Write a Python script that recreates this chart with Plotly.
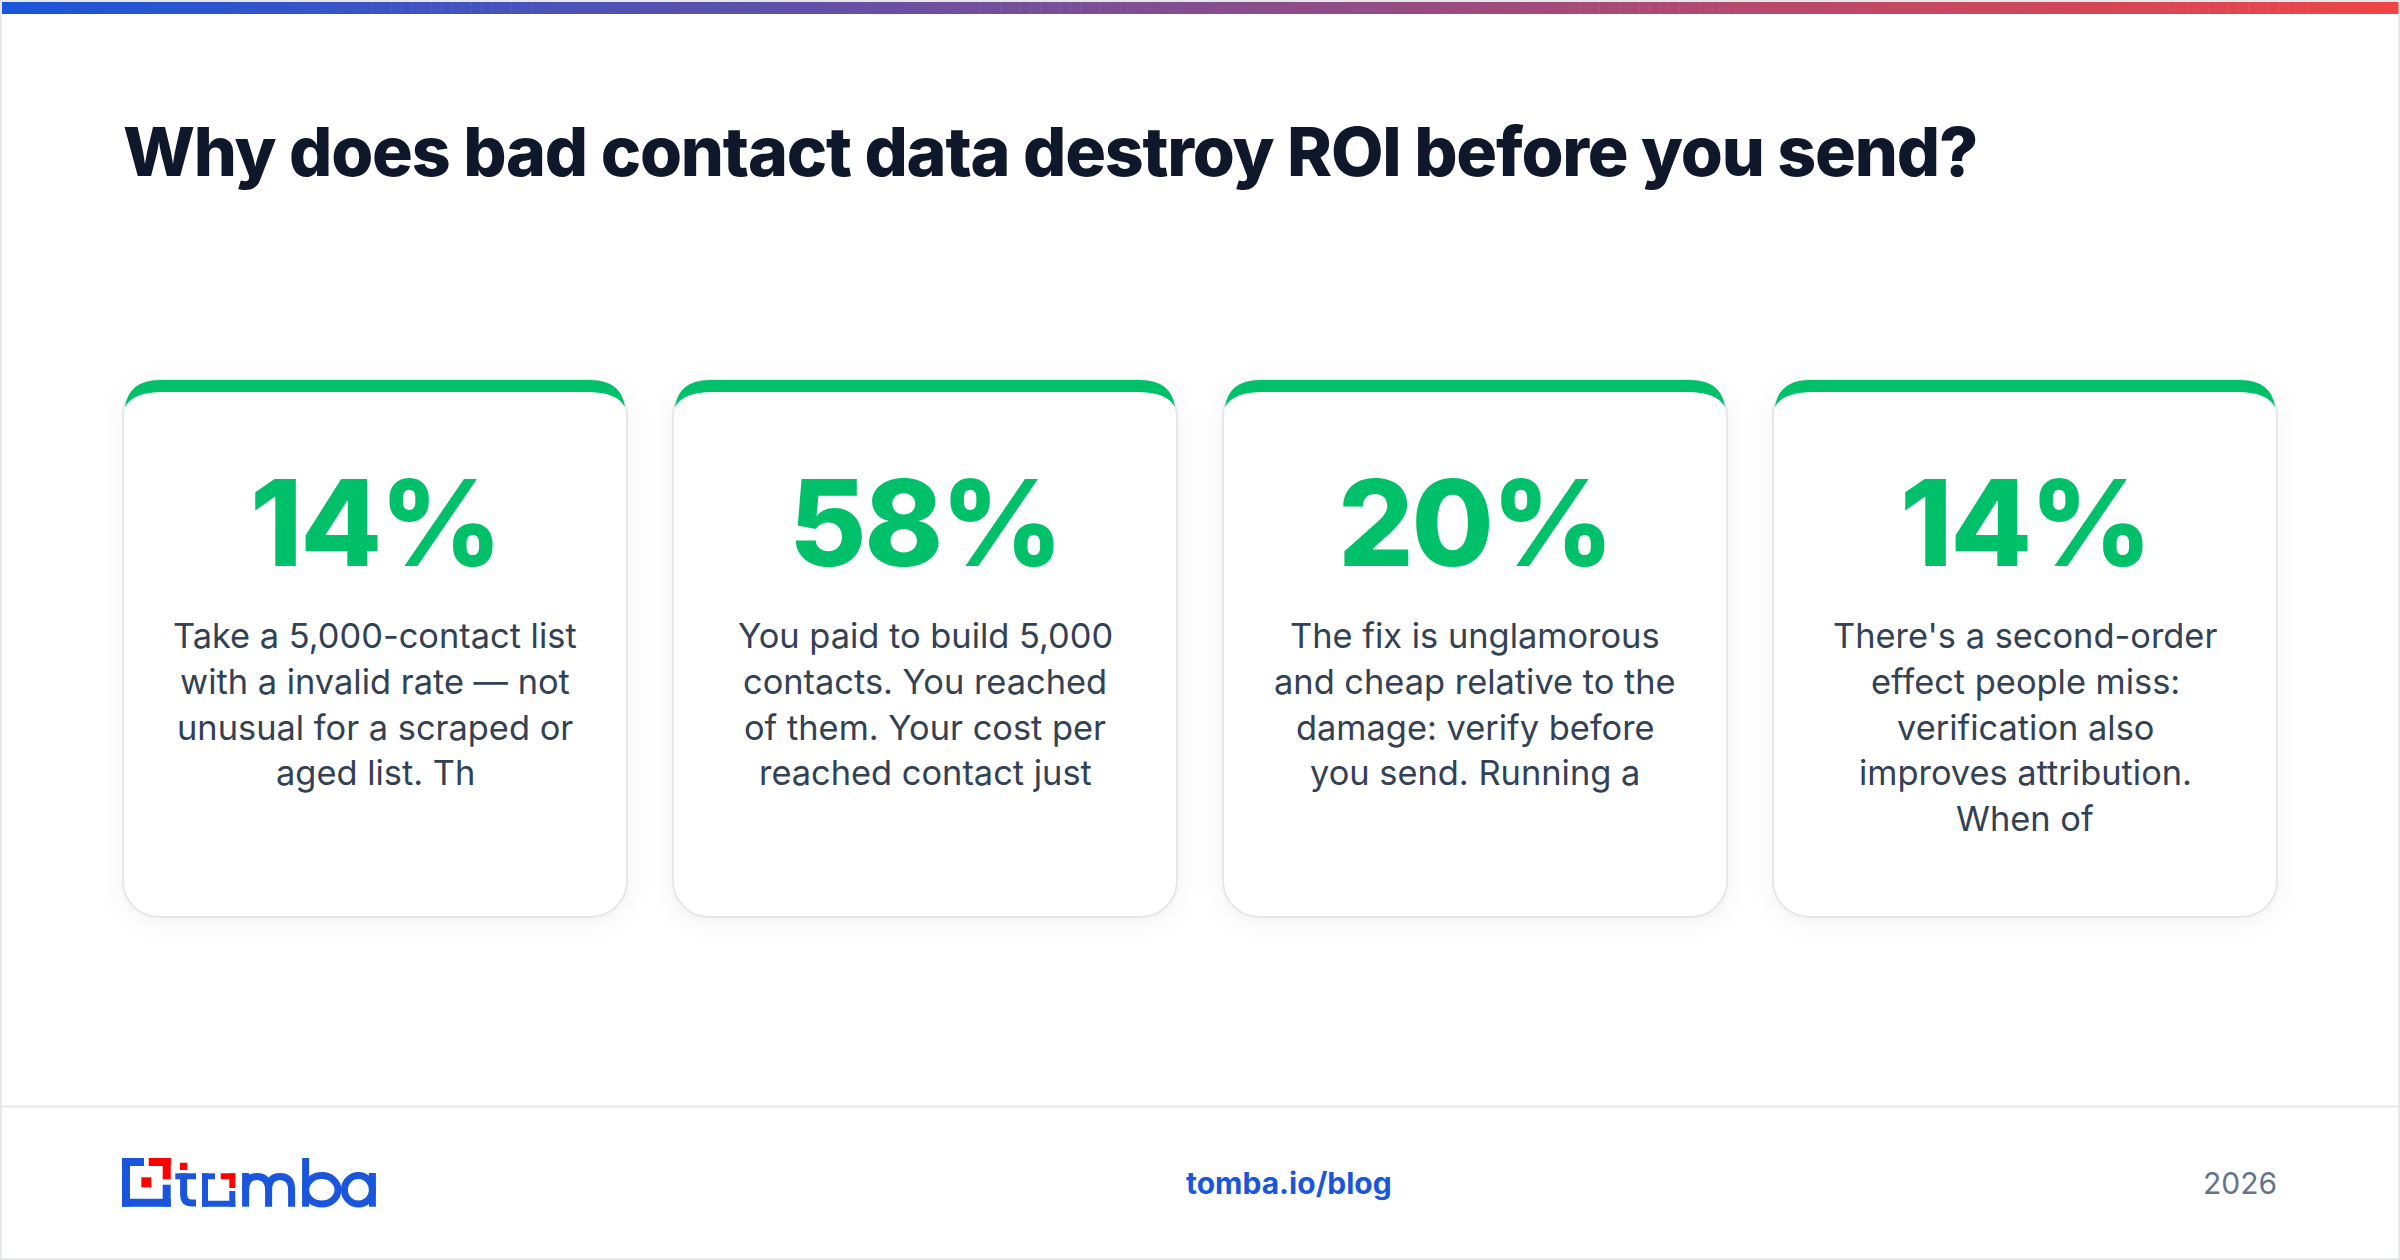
import plotly.graph_objects as go

# Chart content
title = "Why does bad contact data destroy ROI before you send?"
stat_values = [14, 58, 20, 14]
card_lines = [
    ["Take a 5,000-contact list", "with a invalid rate — not", "unusual for a scraped or", "aged list. Th"],
    ["You paid to build 5,000", "contacts. You reached", "of them. Your cost per", "reached contact just"],
    ["The fix is unglamorous", "and cheap relative to the", "damage: verify before", "you send. Running a"],
    ["There's a second-order", "effect people miss:", "verification also", "improves attribution.", "When of"],
]
footer_link = "tomba.io/blog"
footer_year = "2026"

# Colours
BLUE = "#1a56db"
RED_BAR = "#ef4444"
GREEN = "#00c16a"
INK = "#0f172a"
BODY = "#334155"
MUTED = "#64748b"
EDGE = "#e5e7eb"
LOGO_RED = "#ff0000"

W, H = 2400, 1260
CARD_W = 504
CARD_STEP = 550
CARD_L = 123
CARD_T = 380
CARD_B = 917
R = 36

shapes = []
annotations = []


def rect(x0, y0, x1, y1, color):
    shapes.append(dict(type="rect", x0=x0, y0=y0, x1=x1, y1=y1, fillcolor=color, line_width=0))


def round_path(x0, y0, x1, y1, r):
    k = r * 0.448  # control point offset for a circular corner
    return (f"M{x0 + r},{y0} H{x1 - r} C{x1 - k},{y0} {x1},{y0 + k} {x1},{y0 + r} V{y1 - r} "
            f"C{x1},{y1 - k} {x1 - k},{y1} {x1 - r},{y1} H{x0 + r} C{x0 + k},{y1} {x0},{y1 - k} {x0},{y1 - r} "
            f"V{y0 + r} C{x0},{y0 + k} {x0 + k},{y0} {x0 + r},{y0} Z")


def text(x, y, s, size, color, weight=400, anchor="center", spacing=None):
    if spacing is not None:
        s = f'<span style="letter-spacing:{spacing}px">{s}</span>'
    annotations.append(dict(x=x, y=y, xref="x", yref="y", text=s, showarrow=False, xanchor=anchor,
                            yanchor="middle", align=anchor, borderpad=0,
                            font=dict(family="Inter", size=size, color=color, weight=weight)))


def hex_rgb(c):
    return [int(c[i:i + 2], 16) for i in (1, 3, 5)]


# page border
shapes.append(dict(type="rect", x0=1, y0=1, x1=W - 1, y1=H - 1, line=dict(color=EDGE, width=2), fillcolor="white"))

# top gradient bar
a, b = hex_rgb(BLUE), hex_rgb(RED_BAR)
n = 240
for i in range(n):
    t = (i + 0.5) / n
    c = [round(a[k] + (b[k] - a[k]) * t) for k in range(3)]
    rect(2 + i * (W - 4) / n, 2, 2 + (i + 1) * (W - 4) / n + 0.5, 14, f"rgb({c[0]},{c[1]},{c[2]})")

# footer rule
rect(2, 1105.5, W - 2, 1107.5, EDGE)

text(122, 151, title, 68, INK, 800, "left", -1.2)

for i, val in enumerate(stat_values):
    x0 = CARD_L + i * CARD_STEP
    x1 = x0 + CARD_W
    cx = (x0 + x1) / 2
    # soft shadow
    for grow, alpha in [(22, 0.003), (16, 0.004), (10, 0.005), (5, 0.006), (2, 0.008)]:
        shapes.append(dict(type="path", path=round_path(x0 - grow, CARD_T + 4 - grow, x1 + grow, CARD_B + 4 + grow, R + grow),
                           fillcolor=f"rgba(15,23,42,{alpha})", line_width=0))
    shapes.append(dict(type="path", path=round_path(x0, CARD_T, x1, CARD_B, R), fillcolor="white",
                       line=dict(color=EDGE, width=2)))
    # green top edge
    gx0, gx1 = x0 + 2, x1 - 2
    green = (f"M{gx0},{CARD_T + 27} Q{gx0 + 4},{CARD_T} {gx0 + 35},{CARD_T} H{gx1 - 35} "
             f"Q{gx1 - 4},{CARD_T} {gx1},{CARD_T + 27} Q{gx1 - 8},{CARD_T + 12} {gx1 - 38},{CARD_T + 12} "
             f"H{gx0 + 38} Q{gx0 + 8},{CARD_T + 12} {gx0},{CARD_T + 27} Z")
    shapes.append(dict(type="path", path=green, fillcolor=GREEN, line_width=0))

    text(cx, 522.5, f"{val}%", 119, GREEN, 800, "center", -2.4)
    for j, line in enumerate(card_lines[i]):
        text(cx, 635.5 + j * 45.8, line, 34.4, BODY, 400)

# logo, drawn from blocks and strokes
for box in [(122, 1158, 144, 1166), (122, 1158, 130, 1206.7), (122, 1198.7, 170.7, 1206.7), (162.7, 1184.7, 170.7, 1206.7),
            (202, 1173.3, 215, 1179.3), (202, 1173.3, 208, 1206.7), (202, 1200.7, 235.3, 1206.7), (229.3, 1191, 235.3, 1206.7),
            (175.3, 1173.3, 196, 1179.3)]:
    rect(*box, BLUE)
for box in [(148.7, 1158, 170.7, 1166), (162.7, 1158, 170.7, 1179.3), (141.3, 1177.3, 151.3, 1187.3), (180, 1162.7, 187.3, 1170),
            (220.7, 1173.3, 235.3, 1179.3), (229.3, 1173.3, 235.3, 1188)]:
    rect(*box, LOGO_RED)
strokes = [
    "M183.6,1173.3 V1194 Q183.6,1203 192,1203 H196",
    "M245.6,1206.7 V1173",
    "M245.6,1190 Q245.6,1176.5 257,1176.5 Q268.6,1176.5 268.6,1190 V1206.7",
    "M268.6,1190 Q268.6,1176.5 280,1176.5 Q291.6,1176.5 291.6,1190 V1206.7",
    "M305.6,1158 V1206.7",
    "M372.4,1173 V1206.7",
]
for p in strokes:
    shapes.append(dict(type="path", path=p, line=dict(color=BLUE, width=7), fillcolor="rgba(0,0,0,0)"))
for cx0, cx1 in [(305.6, 338), (344.4, 372.4)]:
    shapes.append(dict(type="circle", x0=cx0, y0=1175.6, x1=cx1, y1=1204, line=dict(color=BLUE, width=7),
                       fillcolor="rgba(0,0,0,0)"))

text(1289, 1183, footer_link, 30, BLUE, 700)
text(2278, 1183, footer_year, 30, MUTED, 400, "right")

fig = go.Figure()
fig.update_layout(
    width=W, height=H, margin=dict(l=0, r=0, t=0, b=0), paper_bgcolor="white", plot_bgcolor="white",
    xaxis=dict(range=[0, W], visible=False, fixedrange=True),
    yaxis=dict(range=[H, 0], visible=False, fixedrange=True),
    shapes=shapes, annotations=annotations, showlegend=False,
)
fig.write_html("out.html", config={"displayModeBar": False},
               post_script="document.body.style.margin='0';document.body.style.overflow='hidden';")
